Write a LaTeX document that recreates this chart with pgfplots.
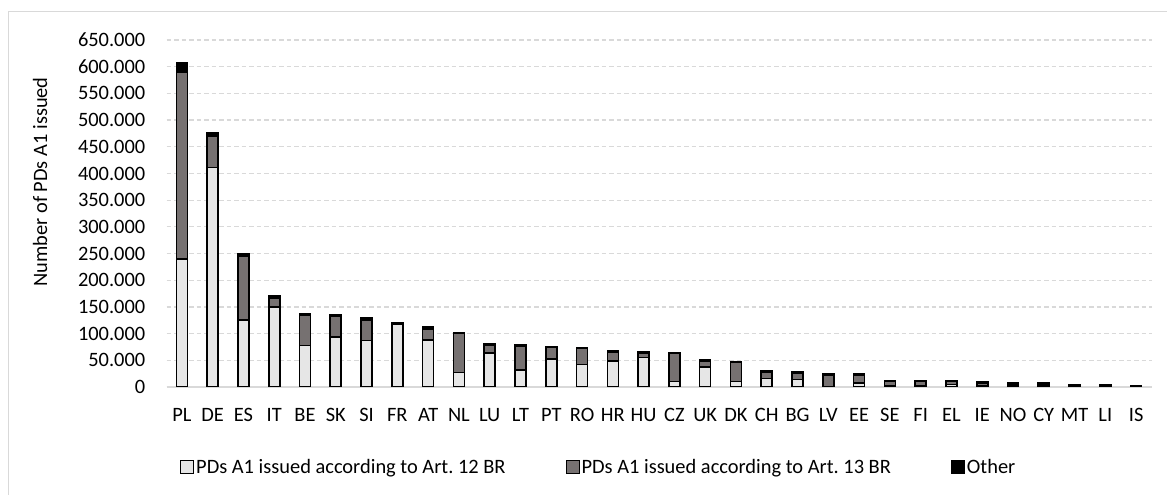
\documentclass[border=0pt]{standalone}
\usepackage{pgfplots}
\pgfplotsset{compat=1.18}
\usepackage{pgfplotstable}
\usepackage{fontspec}
\setmainfont{Carlito}
\frenchspacing
\definecolor{lightfill}{HTML}{E6E6E6}
\definecolor{midgrey}{HTML}{767171}
\definecolor{gridgrey}{HTML}{D9D9D9}
\pgfplotstableread{
idx a12 a13 other
0 240000 350000 17000
1 411000 58000 8000
2 125000 120000 4000
3 150000 17000 3000
4 78000 57000 3000
5 94000 39000 3000
6 87000 39000 3000
7 118000 1000 2000
8 88000 21000 3000
9 27000 73000 2000
10 64000 15000 2000
11 32000 45000 2000
12 53000 21000 2000
13 42000 30000 2000
14 49000 17000 2000
15 55000 9000 2000
16 10000 53000 1500
17 38000 11000 1500
18 10000 36000 2000
19 16000 12000 2000
20 14000 12000 2000
21 1000 21000 2000
22 8000 14000 2000
23 3000 7000 1000
24 2000 8000 2000
25 5000 5000 2000
26 2000 6000 2000
27 2000 4000 1500
28 2000 4000 1000
29 1000 3000 1000
30 1000 2000 500
31 1000 1500 500
}\datatable
\begin{document}
\begin{tikzpicture}[font=\fontsize{20.5}{24}\selectfont]
\useasboundingbox (0,0) rectangle (1167bp,495bp);
\draw[gridgrey, line width=1bp] (8bp,-10bp) -- (8bp,483bp) -- (1180bp,483bp);
\begin{axis}[
  at={(166.5bp,108bp)}, anchor=south west,
  scale only axis, width=985bp, height=347bp,
  xmin=-0.5, xmax=31.5, ymin=0, ymax=650000,
  ybar stacked, bar width=11bp,
  axis x line*=bottom, axis y line*=left,
  x axis line style={draw=gridgrey, line width=1.5bp, -},
  y axis line style={draw=none},
  major tick length=0pt,
  xtick={0,...,31},
  xticklabels={PL,DE,ES,IT,BE,SK,SI,FR,AT,NL,LU,LT,PT,RO,HR,HU,CZ,UK,DK,CH,BG,LV,EE,SE,FI,EL,IE,NO,CY,MT,LI,IS},
  xticklabel style={inner sep=0pt, anchor=north, yshift=-21bp},
  ytick={0,50000,...,650000},
  scaled y ticks=false,
  yticklabel style={inner sep=0pt, anchor=east, xshift=-21bp,
    /pgf/number format/.cd, fixed, set thousands separator={.}, assume math mode=true},
  ymajorgrids,
  grid style={gridgrey, line width=1.2bp, dash pattern=on 4.5bp off 3bp},
  ylabel={Number of PDs A1 issued},
  ylabel style={at={(axis description cs:-0.1284,0.5908)}, anchor=center},
  legend columns=3,
  legend style={draw=none, fill=none, at={(axis description cs:0.0137,-0.2305)}, anchor=west,
    inner sep=0pt, nodes={inner sep=2bp},
    /tikz/every even column/.append style={column sep=58bp}},
  legend image code/.code={\draw[#1, line width=1bp] (0bp,-6.5bp) rectangle (13bp,6.5bp);},
  every axis plot/.append style={draw=black, line width=1.6bp},
]
\addplot[fill=lightfill, draw=black] table[x=idx, y=a12] {\datatable};
\addplot[fill=midgrey, draw=black] table[x=idx, y=a13] {\datatable};
\addplot[fill=black, draw=black] table[x=idx, y=other] {\datatable};
\legend{PDs A1 issued according to Art. 12 BR, PDs A1 issued according to Art. 13 BR, Other}
\end{axis}
\end{tikzpicture}
\end{document}
